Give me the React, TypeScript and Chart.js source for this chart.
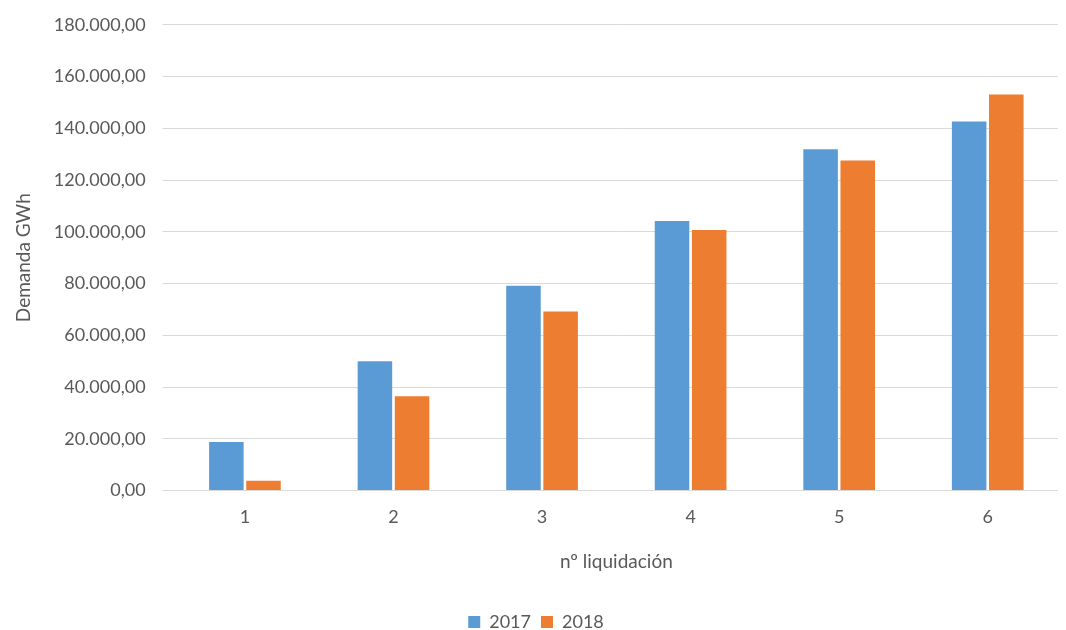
import { Chart, registerables } from "chart.js";
import { useEffect, useRef } from "react";

Chart.register(...registerables);

const categories = ["1", "2", "3", "4", "5", "6"];
const series2017 = [18800, 50000, 79200, 104200, 131900, 142600];
const series2018 = [3800, 36500, 69200, 100700, 127600, 153100];

const fmt = (v: number) => {
    const s = Math.round(v).toString().replace(/\B(?=(\d{3})+(?!\d))/g, ".");
    return `${s},00`;
};

export default function App() {
    const canvasRef = useRef<HTMLCanvasElement | null>(null);

    useEffect(() => {
        if (!canvasRef.current) return;
        const font = { family: "Lato, 'Open Sans', sans-serif", size: 18 };
        const chart = new Chart(canvasRef.current, {
            type: "bar",
            data: {
                labels: categories,
                datasets: [
                    { label: "2017", data: series2017, backgroundColor: "#5b9bd5", categoryPercentage: 0.5, barPercentage: 0.93 },
                    { label: "2018", data: series2018, backgroundColor: "#ed7d31", categoryPercentage: 0.5, barPercentage: 0.93 },
                ],
            },
            options: {
                animation: false,
                responsive: true,
                maintainAspectRatio: false,
                layout: { padding: { top: 0, right: 0, bottom: 0, left: 2 } },
                plugins: {
                    legend: {
                        position: "bottom",
                        labels: { font, color: "#595959", boxWidth: 12, boxHeight: 12, padding: 10 },
                    },
                    tooltip: { enabled: false },
                },
                scales: {
                    x: {
                        grid: { display: false },
                        border: { color: "#d9d9d9" },
                        ticks: { font, color: "#595959", padding: 8 },
                        title: { display: true, text: "nº liquidación", font: { ...font, size: 19 }, color: "#595959", padding: { top: 14, bottom: 30 } },
                    },
                    y: {
                        min: 0,
                        max: 180000,
                        border: { display: false },
                        grid: { color: "#d9d9d9" },
                        ticks: { stepSize: 20000, font, color: "#595959", padding: 17, callback: (v: any) => fmt(Number(v)) },
                        title: { display: true, text: "Demanda GWh", font: { ...font, size: 19 }, color: "#595959", padding: 2 },
                    },
                },
            },
        });
        return () => chart.destroy();
    }, []);

    return (
        <div style={{ width: 1054, height: 644, marginTop: -11 }}>
            <canvas ref={canvasRef} />
        </div>
    );
}
